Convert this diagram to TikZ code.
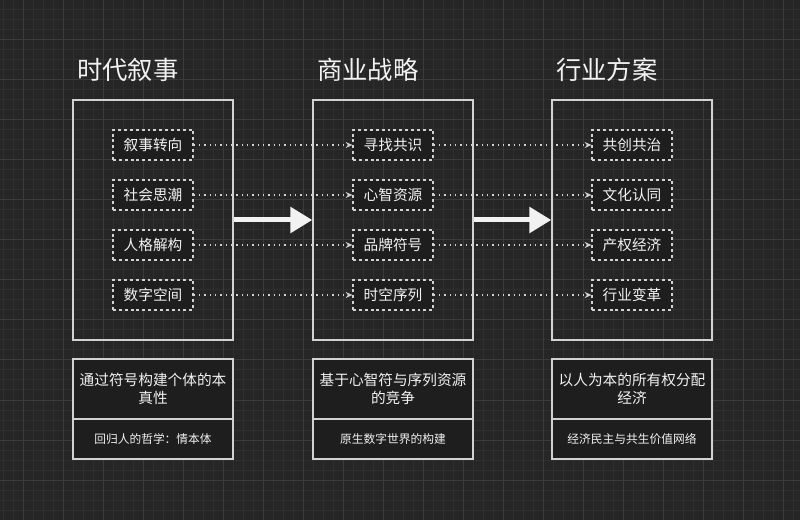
\documentclass[tikz,border=0pt]{standalone}
\usepackage{fontspec}
\newfontfamily\cjkfont{Noto Sans CJK SC}
\usetikzlibrary{arrows.meta}
\definecolor{bgdark}{HTML}{262626}
\definecolor{gridminor}{HTML}{2F2F2F}
\definecolor{gridmajor}{HTML}{3B3B3B}
\definecolor{strokegray}{HTML}{D2D2D2}
\definecolor{boxfill}{HTML}{1E1E1E}
\definecolor{textwhite}{HTML}{F2F2F2}

\begin{document}
\begin{tikzpicture}[x=0.75pt,y=0.75pt,yscale=-1,xscale=1,
	every node/.style={font=\cjkfont, text=textwhite},
	title/.style={anchor=west, inner sep=0.75pt, font=\cjkfont\fontsize{19}{22}\selectfont},
	panel/.style={draw=strokegray, line width=1.1pt, minimum width=120pt, minimum height=180pt, inner sep=0pt},
	item/.style={draw=strokegray, fill=boxfill, line width=0.9pt, dash pattern=on 2.2pt off 2.2pt, minimum width=60pt, minimum height=22.5pt, inner sep=0pt, font=\cjkfont\fontsize{11}{13}\selectfont},
	summary/.style={draw=strokegray, fill=boxfill, line width=1.1pt, minimum width=120pt, minimum height=45pt, inner sep=0pt, align=center, font=\cjkfont\fontsize{11}{13.5}\selectfont},
	note/.style={draw=strokegray, fill=boxfill, line width=1.1pt, minimum width=120pt, minimum height=30pt, inner sep=0pt, align=center, font=\cjkfont\fontsize{8.8}{11}\selectfont},
	link/.style={draw=strokegray, line width=0.8pt, dash pattern=on 1pt off 3pt, -{Stealth[length=5pt,width=4.5pt]}},
	bigarrow/.style={draw=textwhite, line width=3.75pt, -{Triangle[length=16.5pt,width=19pt]}}
]
	%set diagram at 800 x 520
	\useasboundingbox (0,0) rectangle (800,520);
	\fill[bgdark] (0,0) rectangle (800,520);

	%Grid
	\foreach \gx in {3,13,...,793} \draw[gridminor, line width=0.75pt] (\gx,0) -- (\gx,520);
	\foreach \gy in {0,10,...,520} \draw[gridminor, line width=0.75pt] (0,\gy) -- (800,\gy);
	\foreach \gx in {23,63,...,783} \draw[gridmajor, line width=0.75pt] (\gx,0) -- (\gx,520);
	\foreach \gy in {0,40,...,520} \draw[gridmajor, line width=0.75pt] (0,\gy) -- (800,\gy);

	% Titles
	\node[title] (ttl1) at (76,70) {时代叙事};
	\node[title] (ttl2) at (316,70) {商业战略};
	\node[title] (ttl3) at (555,70) {行业方案};

	%Rect panels
	\node[panel] (col1) at (153,220) {};
	\node[panel] (col2) at (393,220) {};
	\node[panel] (col3) at (632,220) {};

	% Items of column 1
	\node[item] (a1) at (153,145) {叙事转向};
	\node[item] (a2) at (153,195) {社会思潮};
	\node[item] (a3) at (153,245) {人格解构};
	\node[item] (a4) at (153,295) {数字空间};
	% Items of column 2
	\node[item] (b1) at (393,145) {寻找共识};
	\node[item] (b2) at (393,195) {心智资源};
	\node[item] (b3) at (393,245) {品牌符号};
	\node[item] (b4) at (393,295) {时空序列};
	% Items of column 3
	\node[item] (c1) at (632,145) {共创共治};
	\node[item] (c2) at (632,195) {文化认同};
	\node[item] (c3) at (632,245) {产权经济};
	\node[item] (c4) at (632,295) {行业变革};

	%Dotted links
	\draw[link] (a1.east) -- (b1.west);
	\draw[link] (a2.east) -- (b2.west);
	\draw[link] (a3.east) -- (b3.west);
	\draw[link] (a4.east) -- (b4.west);
	\draw[link] (b1.east) -- (c1.west);
	\draw[link] (b2.east) -- (c2.west);
	\draw[link] (b3.east) -- (c3.west);
	\draw[link] (b4.east) -- (c4.west);

	%Big arrows
	\draw[bigarrow] (col1.east) -- (col2.west);
	\draw[bigarrow] (col2.east) -- (col3.west);

	% Summary boxes
	\node[summary] (sum1) at (153,389) {通过符号构建个体的本\\真性};
	\node[summary] (sum2) at (393,389) {基于心智符与序列资源\\的竞争};
	\node[summary] (sum3) at (632,389) {以人为本的所有权分配\\经济};
	\node[note] (note1) at (153,439) {回归人的哲学：情本体};
	\node[note] (note2) at (393,439) {原生数字世界的构建};
	\node[note] (note3) at (632,439) {经济民主与共生价值网络};

\end{tikzpicture}
\end{document}
